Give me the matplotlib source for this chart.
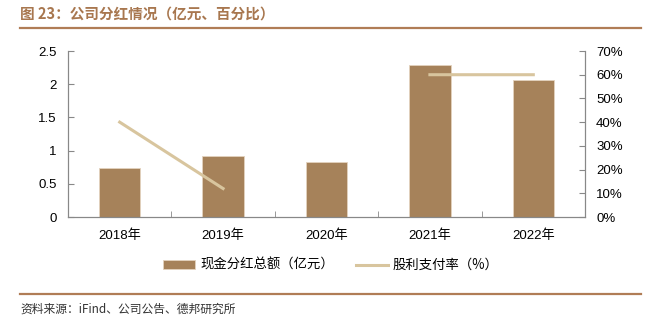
import numpy as np
import matplotlib.pyplot as plt
from matplotlib.ticker import FixedLocator, FuncFormatter

plt.rcParams['font.family'] = ['Liberation Sans', 'Noto Sans CJK SC', 'DejaVu Sans']

years = ['2018年', '2019年', '2020年', '2021年', '2022年']
dividend = [0.74, 0.92, 0.83, 2.29, 2.06]          # 现金分红总额（亿元）
payout = [40, 12, np.nan, 60, 60]                  # 股利支付率（%）

bar_color = '#A6825A'
line_color = '#D8C59E'
brown = '#A8774F'

fig = plt.figure(figsize=(6.56, 3.27), dpi=100)
ax = fig.add_axes([68/656, 1 - 217/327, (585 - 68)/656, (217 - 51)/327])
ax2 = ax.twinx()

x = np.arange(len(years))
ax.bar(x, dividend, width=0.4, color=bar_color, edgecolor='#E3D3BE', linewidth=0.6,
       label='现金分红总额（亿元）', zorder=2)
ax2.plot(x, payout, color=line_color, linewidth=2.2, label='股利支付率（%）')

ax.set_xlim(-0.5, len(years) - 0.5)
ax.set_ylim(0, 2.5)
ax.set_yticks([0, 0.5, 1, 1.5, 2, 2.5])
ax.set_yticklabels(['0', '0.5', '1', '1.5', '2', '2.5'])
ax2.set_ylim(0, 70)
ax2.set_yticks(range(0, 71, 10))
ax2.yaxis.set_major_formatter(FuncFormatter(lambda v, p: '%d%%' % v))

ax.set_xticks(x)
ax.set_xticklabels(years)
ax.xaxis.set_minor_locator(FixedLocator(np.arange(-0.5, len(years), 1)))
ax.tick_params(axis='x', which='major', length=0, pad=9, labelsize=9.5)
ax.tick_params(axis='x', which='minor', length=4, direction='in', color='#888888')
ax.tick_params(axis='y', length=4, direction='in', color='#888888', labelsize=9.5, pad=8)
ax2.tick_params(axis='y', length=4, direction='in', color='#888888', labelsize=9.5, pad=8)

for a in (ax, ax2):
    a.spines['top'].set_visible(False)
    for s in ('left', 'right', 'bottom'):
        a.spines[s].set_color('#888888')
        a.spines[s].set_linewidth(0.8)

h1, l1 = ax.get_legend_handles_labels()
h2, l2 = ax2.get_legend_handles_labels()
fig.legend(h1 + h2, l1 + l2, loc='center', bbox_to_anchor=(331/656, 1 - 265/327), ncol=2,
           frameon=False, handlelength=2.4, handleheight=0.6, handletextpad=0.4,
           columnspacing=1.6, prop={'family': ['Noto Sans CJK SC'], 'size': 9.6})

fig.text(20/656, 1 - 14/327, '图 23：公司分红情况（亿元、百分比）', color=brown, fontsize=10.5,
         fontweight='bold', va='center', family=['Noto Sans CJK SC'])
fig.add_artist(plt.Line2D([20/656, 641/656], [1 - 28/327, 1 - 28/327], color='#B07D56', linewidth=1.6))
fig.add_artist(plt.Line2D([20/656, 641/656], [1 - 294/327, 1 - 294/327], color='#B07D56', linewidth=1.6))
fig.text(20/656, 1 - 309/327, '资料来源：iFind、公司公告、德邦研究所', color='#333333', fontsize=8.5,
         va='center', family=['Noto Sans CJK SC'])

fig.savefig('out.png', dpi=100)
